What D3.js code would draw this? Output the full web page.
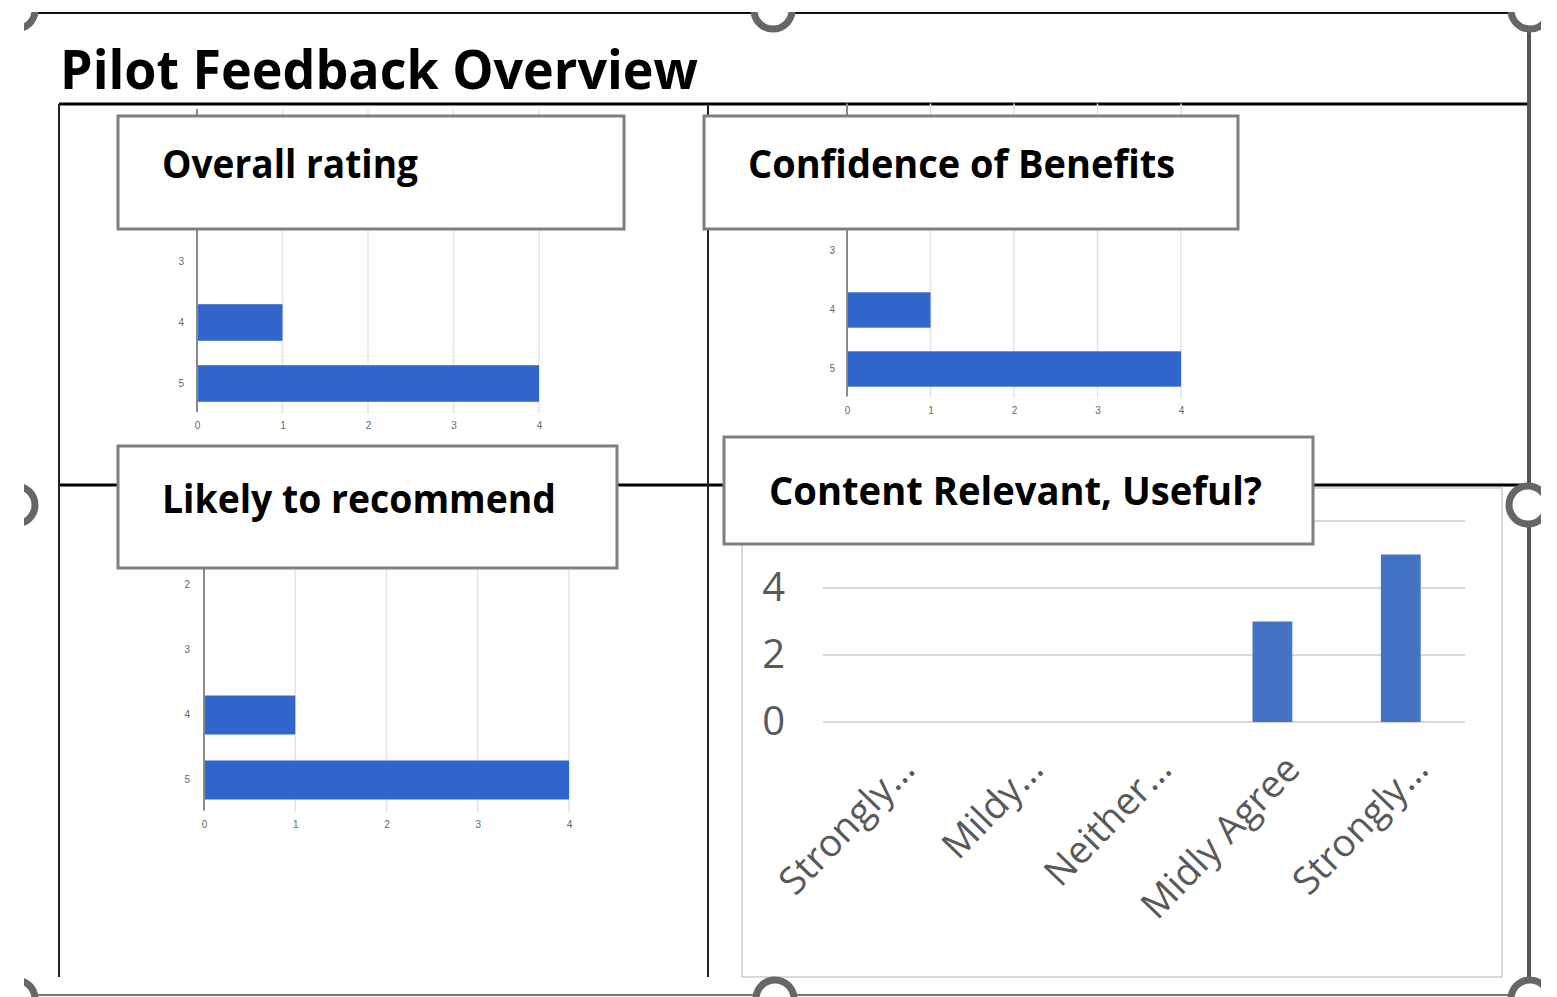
<!DOCTYPE html>
<html>
<head>
<meta charset="utf-8">
<script src="https://cdn.jsdelivr.net/npm/d3@7"></script>
<style>
  body { margin: 0; background: #fff; }
  svg { display: block; }
</style>
</head>
<body>
<div id="chart"></div>
<script>
// ---- data ----
var ratingCats = ["1", "2", "3", "4", "5"];
var overallCounts = [0, 0, 0, 1, 4];
var confidenceCounts = [0, 0, 0, 1, 4];
var recommendCounts = [0, 0, 0, 1, 4];
var countTicks = [0, 1, 2, 3, 4];

var contentCats = ["Strongly…", "Mildy…", "Neither…", "Midly Agree", "Strongly…"];
var contentCounts = [0, 0, 0, 3, 5];
var contentGrid = [0, 2, 4, 6];
var contentLabels = [0, 2, 4];

var titles = ["Overall rating", "Confidence of Benefits", "Likely to recommend", "Content Relevant, Useful?"];

var width = 1557, height = 997;

var svg = d3.select("#chart").append("svg")
  .attr("width", width)
  .attr("height", height);

// Excel style chart panel (bottom right)
svg.append("rect")
  .attr("x", 742).attr("y", 488).attr("width", 760).attr("height", 489)
  .attr("fill", "#fff").attr("stroke", "#d9d9d9").attr("stroke-width", 2);

// slide table lines
var lines = [
  [59, 104, 1530, 104, 3, "#000"],
  [59, 485, 1530, 485, 3, "#000"],
  [59, 104, 59, 977, 2, "#222"],
  [708, 104, 708, 977, 2, "#222"]
];
svg.selectAll(".tline").data(lines).enter().append("line")
  .attr("class", "tline")
  .attr("x1", d => d[0]).attr("y1", d => d[1])
  .attr("x2", d => d[2]).attr("y2", d => d[3])
  .attr("stroke-width", d => d[4]).attr("stroke", d => d[5]);

// --- small google style horizontal bar charts ---
// rows above the visible ones sit under the title boxes, so only visible rows get a label
function hbar(counts, xr, yr, labelPad, shownCats) {
  var x = d3.scaleLinear().domain([0, 4]).range(xr);
  var y = d3.scaleBand().domain(ratingCats).range(yr)
    .paddingInner(0.4).paddingOuter(0.2);
  var g = svg.append("g");

  // gridlines
  g.selectAll(".grid").data(countTicks.slice(1)).enter().append("line")
    .attr("x1", d => x(d)).attr("x2", d => x(d))
    .attr("y1", yr[0]).attr("y2", yr[1])
    .attr("stroke", "#e3e3e3").attr("stroke-width", 1.5);

  g.selectAll(".bar").data(counts).enter().append("rect")
    .attr("x", x(0))
    .attr("y", (d, i) => y(ratingCats[i]))
    .attr("width", d => x(d) - x(0))
    .attr("height", y.bandwidth())
    .attr("fill", "#3366cc");

  // vertical baseline
  g.append("line")
    .attr("x1", x(0)).attr("x2", x(0))
    .attr("y1", yr[0]).attr("y2", yr[1] - 2)
    .attr("stroke", "#8a8a8a").attr("stroke-width", 2);

  var ya = g.append("g")
    .attr("transform", "translate(" + x(0) + ",0)")
    .call(d3.axisLeft(y).tickValues(shownCats).tickSize(0).tickPadding(labelPad));
  var xa = g.append("g")
    .attr("transform", "translate(0," + yr[1] + ")")
    .call(d3.axisBottom(x).tickValues(countTicks).tickSize(0).tickPadding(8).tickFormat(d3.format("d")));
  [ya, xa].forEach(function (a) {
    a.select(".domain").remove();
    a.selectAll("text").attr("font-family", "Arial, 'Liberation Sans'")
      .attr("font-size", 10).attr("fill", "#666");
  });
}

hbar(overallCounts, [197, 539], [109, 414], 13, ["3", "4", "5"]);
hbar(confidenceCounts, [847, 1181], [103.5, 398.5], 12, ["3", "4", "5"]);
hbar(recommendCounts, [204, 569], [487.5, 812.5], 14, ["2", "3", "4", "5"]);

// --- Excel style column chart ---
var cx = d3.scaleBand().domain(d3.range(contentCats.length)).range([823, 1465])
  .paddingInner(0.69).paddingOuter(0.345);
var cy = d3.scaleLinear().domain([0, 6]).range([722, 521]);
var cg = svg.append("g");

cg.selectAll(".cgrid").data(contentGrid).enter().append("line")
  .attr("x1", 823).attr("x2", 1465)
  .attr("y1", d => cy(d)).attr("y2", d => cy(d))
  .attr("stroke", "#d9d9d9").attr("stroke-width", 2);

cg.selectAll(".col").data(contentCounts).enter().append("rect")
  .attr("x", (d, i) => cx(i))
  .attr("y", d => cy(d))
  .attr("width", cx.bandwidth())
  .attr("height", d => cy(0) - cy(d))
  .attr("fill", "#4472c4");

var cya = cg.append("g").attr("transform", "translate(823,0)")
  .call(d3.axisLeft(cy).tickValues(contentLabels).tickSize(0).tickPadding(38).tickFormat(d3.format("d")));
cya.select(".domain").remove();
cya.selectAll("text").attr("font-family", "'Open Sans', sans-serif")
  .attr("font-size", 40).attr("fill", "#595959");

cg.selectAll(".clab").data(contentCats).enter().append("text")
  .attr("transform", (d, i) => "translate(" + (cx(i) + cx.bandwidth() / 2 + 20) + ",762) rotate(-46)")
  .attr("text-anchor", "end")
  .attr("dy", "0.35em")
  .attr("font-family", "'Open Sans', sans-serif")
  .attr("font-size", 38)
  .attr("fill", "#595959")
  .text(d => d);

// --- title boxes ---
var boxes = [
  { x: 118, y: 116, w: 506, h: 113, tx: 162, ty: 178, tw: 256 },
  { x: 704, y: 116, w: 534, h: 113, tx: 748, ty: 178, tw: 427 },
  { x: 118, y: 446, w: 499, h: 122, tx: 162, ty: 513, tw: 394 },
  { x: 724, y: 437, w: 589, h: 107, tx: 769, ty: 505, tw: 493 }
];
var bg = svg.selectAll(".tbox").data(boxes).enter().append("g").attr("class", "tbox");
bg.append("rect")
  .attr("x", d => d.x).attr("y", d => d.y)
  .attr("width", d => d.w).attr("height", d => d.h)
  .attr("fill", "#fff").attr("stroke", "#7f7f7f").attr("stroke-width", 3);
bg.append("text")
  .attr("x", d => d.tx).attr("y", d => d.ty)
  .attr("textLength", d => d.tw).attr("lengthAdjust", "spacingAndGlyphs")
  .attr("font-family", "'Open Sans', sans-serif")
  .attr("font-weight", 700).attr("font-size", 40)
  .attr("fill", "#000")
  .text((d, i) => titles[i]);

// slide title
svg.append("text")
  .attr("x", 60).attr("y", 89)
  .attr("textLength", 638).attr("lengthAdjust", "spacingAndGlyphs")
  .attr("font-family", "'Open Sans', sans-serif")
  .attr("font-weight", 700).attr("font-size", 53)
  .attr("fill", "#000")
  .text("Pilot Feedback Overview");

// --- selection frame with handles (clipped like the screenshot) ---
svg.append("clipPath").attr("id", "frameClip")
  .append("rect").attr("x", 24).attr("y", 12).attr("width", 1517).attr("height", 985);
var fg = svg.append("g").attr("clip-path", "url(#frameClip)");

fg.append("line").attr("x1", 16).attr("x2", 1530).attr("y1", 13).attr("y2", 13)
  .attr("stroke", "#111").attr("stroke-width", 2);
fg.append("line").attr("x1", 16).attr("x2", 1530).attr("y1", 995).attr("y2", 995)
  .attr("stroke", "#777").attr("stroke-width", 2);
fg.append("line").attr("x1", 1529).attr("x2", 1529).attr("y1", 13).attr("y2", 997)
  .attr("stroke", "#555").attr("stroke-width", 4);

var handles = [[16, 10], [773, 10], [1530, 10], [16, 505], [1528, 505], [16, 999], [775, 999], [1530, 999]];
fg.selectAll(".handle").data(handles).enter().append("circle")
  .attr("cx", d => d[0]).attr("cy", d => d[1]).attr("r", 19)
  .attr("fill", "#fff").attr("stroke", "#666").attr("stroke-width", 7);
</script>
</body>
</html>
